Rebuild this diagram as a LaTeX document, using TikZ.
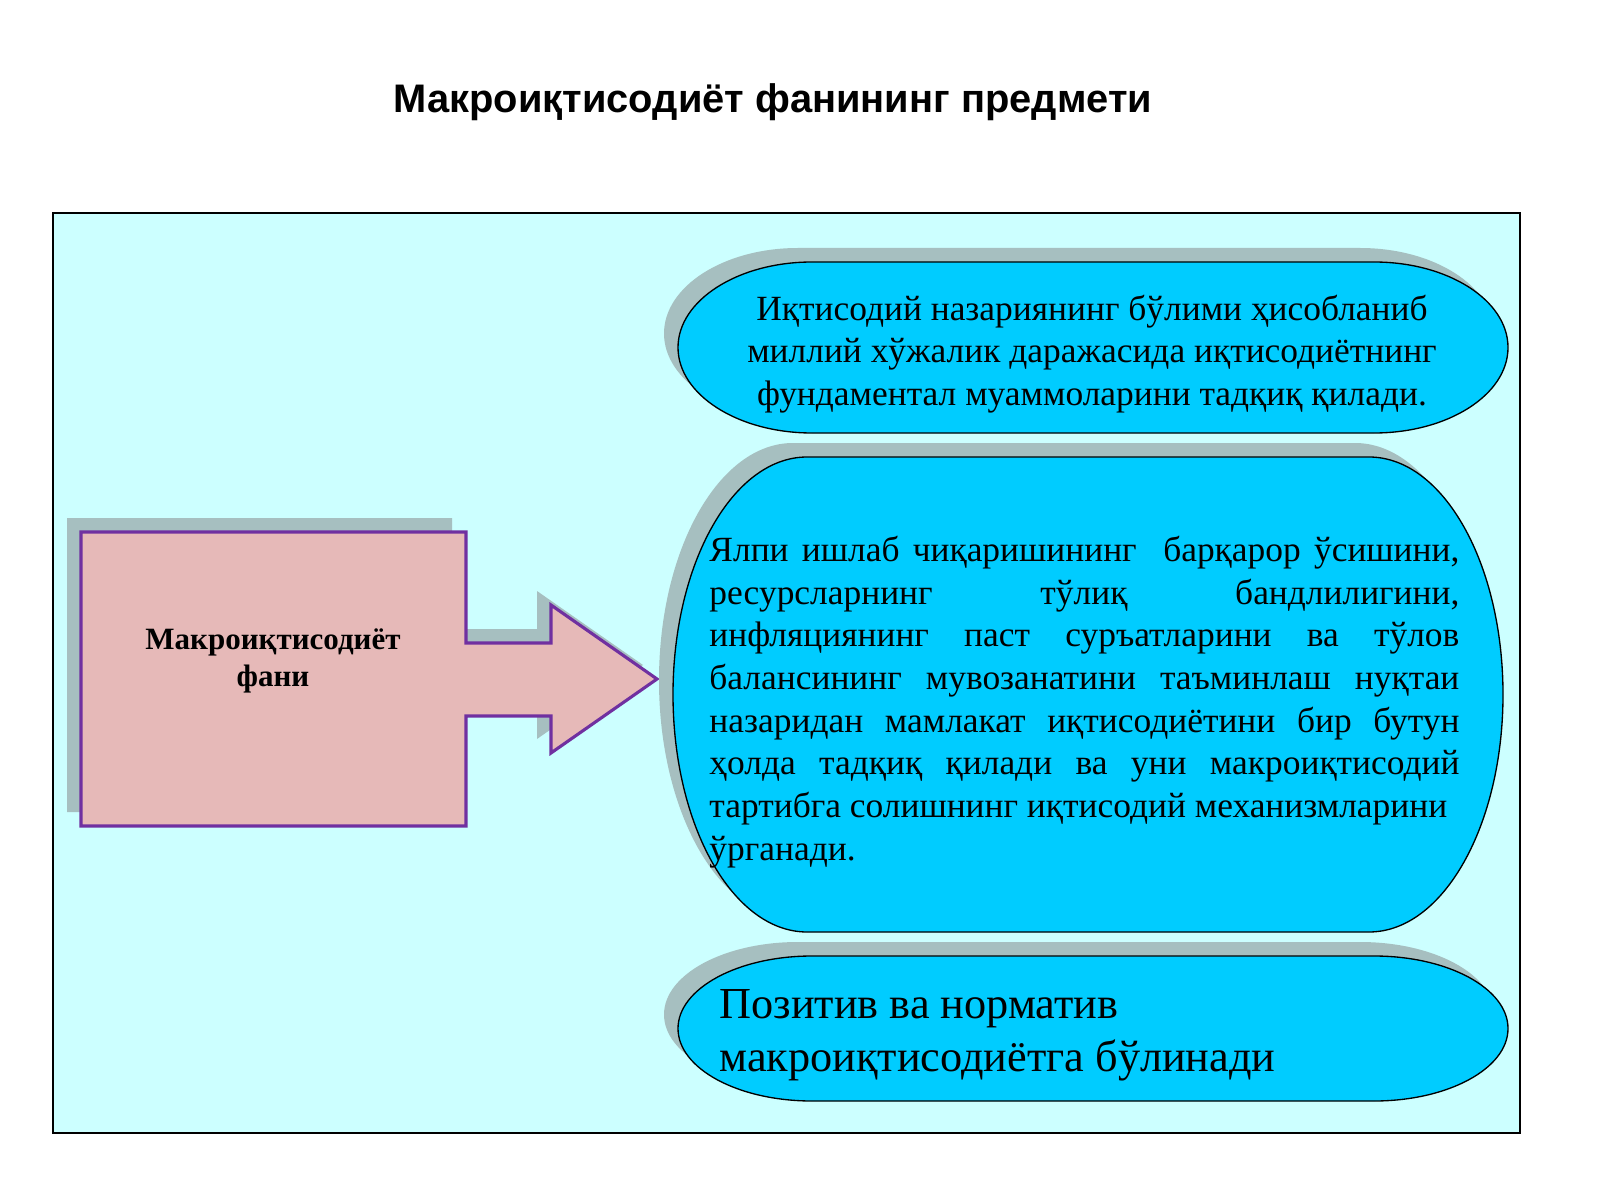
\documentclass[tikz,border=0pt]{standalone}
\usepackage{fontspec}
\setmainfont{Liberation Serif}
\newfontfamily\headfont{Liberation Sans}
\usetikzlibrary{shadows}
\definecolor{panel}{RGB}{204,255,255}
\definecolor{skyfill}{RGB}{0,204,255}
\definecolor{pinkfill}{RGB}{230,185,184}
\definecolor{purp}{RGB}{112,48,160}
\definecolor{greyshadow}{RGB}{166,191,192}

\begin{document}
\begin{tikzpicture}[x=0.45bp,y=0.45bp,every node/.style={inner sep=0pt},dropgray/.style={drop shadow={shadow xshift=-6.3bp,shadow yshift=6.3bp,fill=greyshadow,opacity=1}},blob/.style={draw=black,line width=0.6bp,fill=skyfill,dropgray},txt/.style={font=\fontsize{16}{19.3}\selectfont}]
\useasboundingbox (0,0) rectangle (1600,1200);
\draw[fill=panel,line width=0.7bp] (53,67) rectangle (1520,987);
\node[font=\headfont\bfseries\fontsize{18}{21.6}\selectfont] (title) at (773,1098) {Макроиқтисодиёт фанининг предмети};
\draw[fill=pinkfill,draw=purp,line width=1.4bp,dropgray] (81,668) -- (466,668) -- (466,557) -- (551,557) -- (551,595) -- (657,521) -- (551,447) -- (551,484) -- (466,484) -- (466,374) -- (81,374) -- cycle;
\node[font=\bfseries\fontsize{14}{16.8}\selectfont,align=center] (subj) at (273,539) {Макроиқтисодиёт\\фани};
\draw[blob] (812,938) -- (1374,938) arc[start angle=90,end angle=-90,x radius=134,y radius=85.5] -- (812,767) arc[start angle=270,end angle=90,x radius=134,y radius=85.5] -- cycle;
\node[txt,align=center] (def) at (1092,846) {Иқтисодий назариянинг бўлими ҳисобланиб\\миллий хўжалик даражасида иқтисодиётнинг\\фундаментал муаммоларини тадқиқ қилади.};
\draw[blob] (807,743) -- (1369,743) arc[start angle=90,end angle=-90,x radius=134,y radius=237.5] -- (807,268) arc[start angle=270,end angle=90,x radius=134,y radius=237.5] -- cycle;
\node[txt,align=justify,text width=337.5bp,anchor=west] (task) at (709,498) {Ялпи ишлаб чиқаришининг\ \ барқарор ўсишини,\linebreak ресурсларнинг тўлиқ бандлилигини,\linebreak инфляциянинг паст суръатларини ва тўлов\linebreak балансининг мувозанатини таъминлаш нуқтаи\linebreak назаридан мамлакат иқтисодиётини бир бутун\linebreak ҳолда тадқиқ қилади ва уни макроиқтисодий\linebreak тартибга солишнинг иқтисодий механизмларини\newline ўрганади.};
\draw[blob] (812,244) -- (1374,244) arc[start angle=90,end angle=-90,x radius=134,y radius=72.5] -- (812,99) arc[start angle=270,end angle=90,x radius=134,y radius=72.5] -- cycle;
\node[font=\fontsize{20}{24}\selectfont,align=left,anchor=west] (kind) at (719,165) {Позитив ва норматив\\макроиқтисодиётга бўлинади};
\end{tikzpicture}
\end{document}
